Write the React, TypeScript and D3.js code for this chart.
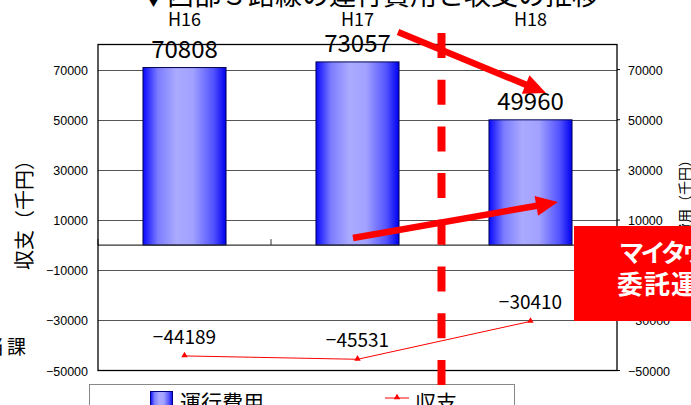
import React from 'react';
import * as d3 from 'd3';

// Fiscal years and series values (千円)
const categories = ['H16', 'H17', 'H18'];
const operatingCost = [70808, 73057, 49960];
const balance = [-44189, -45531, -30410];
const yTicks = [-50000, -30000, -10000, 10000, 30000, 50000, 70000];
const yDomain: [number, number] = [-50000, 80000];

const TITLE = '▼西部３路線の運行費用と収支の推移';
const LEFT_TITLE = '収支（千円）';
const RIGHT_TITLE = '運行費用（千円）';
const LEGEND_BAR = '運行費用';
const LEGEND_LINE = '収支';
const CALLOUT = ['マイタウンバス', '委託運行へ'];

// Hand-drawn red annotation arrows, in page pixels
const arrows = [
  { x1: 398, y1: 32, x2: 546, y2: 93 },
  { x1: 353, y1: 238, x2: 558, y2: 202 },
];

const W = 691;
const H = 405;
const plot = { left: 98, right: 617, top: 44.5, bottom: 370.5 };

const JP = '"Noto Sans CJK JP", "Noto Sans", sans-serif';
const SANS = '"Liberation Sans", Arial, sans-serif';

const fmt = (v: number) => (v < 0 ? '\u2212' + Math.abs(v) : String(v));

function arrowPath(a: { x1: number; y1: number; x2: number; y2: number }) {
  const dx = a.x2 - a.x1;
  const dy = a.y2 - a.y1;
  const len = Math.hypot(dx, dy);
  const ux = dx / len;
  const uy = dy / len;
  const headLen = 22;
  const headHalf = 10;
  const bx = a.x2 - ux * headLen;
  const by = a.y2 - uy * headLen;
  return {
    shaft: { x1: a.x1, y1: a.y1, x2: bx + ux * 2, y2: by + uy * 2 },
    head: [
      [a.x2, a.y2],
      [bx - uy * headHalf, by + ux * headHalf],
      [bx + uy * headHalf, by - ux * headHalf],
    ]
      .map((p) => p.join(','))
      .join(' '),
  };
}

export default function App() {
  const x = d3.scaleBand<string>().domain(categories).range([plot.left, plot.right]);
  const y = d3.scaleLinear().domain(yDomain).range([plot.bottom, plot.top]);
  const bw = x.bandwidth();
  const barW = bw * 0.48;
  const cx = (c: string) => (x(c) as number) + bw / 2;

  const linePath = d3
    .line<number>()
    .x((_, i) => cx(categories[i]))
    .y((d) => y(d))(balance) as string;
  const tri = d3.symbol(d3.symbolTriangle, 18)() as string;

  const boundaries = categories.map((c) => x(c) as number).concat([plot.right]);

  return (
    <svg
      width={W}
      height={H}
      viewBox={`0 0 ${W} ${H}`}
      style={{ position: 'absolute', left: 0, top: 0, background: '#fff' }}
    >
      <defs>
        <linearGradient id="barGrad" x1="0" x2="1" y1="0" y2="0">
          <stop offset="0" stopColor="#0808ff" />
          <stop offset="0.18" stopColor="#7c7cff" />
          <stop offset="0.4" stopColor="#aaaaff" />
          <stop offset="0.6" stopColor="#a2a2ff" />
          <stop offset="0.85" stopColor="#5252ff" />
          <stop offset="1" stopColor="#0000f0" />
        </linearGradient>
      </defs>

      <rect x={0} y={0} width={W} height={H} fill="#fff" />

      {/* title */}
      <text x={140} y={5} fontFamily={JP} fontSize={27} fill="#000">
        {TITLE}
      </text>

      {/* category labels above the plot */}
      {categories.map((c) => (
        <text key={c} x={cx(c)} y={26} textAnchor="middle" fontFamily={JP} fontSize={18}>
          {c}
        </text>
      ))}

      {/* grid */}
      {yTicks
        .filter((t) => t > yDomain[0])
        .map((t) => (
          <line
            key={t}
            x1={plot.left}
            x2={plot.right}
            y1={Math.round(y(t)) + 0.5}
            y2={Math.round(y(t)) + 0.5}
            stroke="#555"
            strokeWidth={1}
          />
        ))}

      {/* bars */}
      {categories.map((c, i) => {
        const v = operatingCost[i];
        return (
          <rect
            key={c}
            x={cx(c) - barW / 2}
            y={y(v)}
            width={barW}
            height={y(0) - y(v)}
            fill="url(#barGrad)"
            stroke="#000050"
            strokeWidth={1}
          />
        );
      })}

      {/* category axis at zero */}
      <line x1={plot.left} x2={plot.right} y1={y(0)} y2={y(0)} stroke="#333" strokeWidth={1.2} />
      {boundaries.map((b, i) => (
        <line key={i} x1={b} x2={b} y1={y(0)} y2={y(0) - 6} stroke="#333" strokeWidth={1} />
      ))}

      {/* plot frame */}
      <rect
        x={plot.left}
        y={plot.top}
        width={plot.right - plot.left}
        height={plot.bottom - plot.top}
        fill="none"
        stroke="#000"
        strokeWidth={1.3}
      />

      {/* left axis labels */}
      {yTicks.map((t) => (
        <text key={t} x={88} y={y(t) + 5} textAnchor="end" fontFamily={SANS} fontSize={12.5}>
          {fmt(t)}
        </text>
      ))}
      {/* right axis ticks and labels */}
      {yTicks.map((t) => (
        <g key={t}>
          <line x1={plot.right} x2={plot.right + 3} y1={y(t)} y2={y(t)} stroke="#000" />
          <text x={628} y={y(t) + 5} fontFamily={SANS} fontSize={12.5}>
            {fmt(t)}
          </text>
        </g>
      ))}

      {/* bar value labels */}
      {categories.map((c, i) => (
        <text
          key={c}
          x={cx(c)}
          y={y(operatingCost[i]) - 10}
          textAnchor="middle"
          fontFamily={JP}
          fontSize={24}
        >
          {fmt(operatingCost[i])}
        </text>
      ))}

      {/* balance line */}
      <path d={linePath} fill="none" stroke="#ff0000" strokeWidth={1} />
      {balance.map((v, i) => (
        <path
          key={i}
          d={tri}
          transform={`translate(${cx(categories[i])},${y(v) - 0.5})`}
          fill="#ff0000"
        />
      ))}
      {balance.map((v, i) => (
        <text
          key={i}
          x={cx(categories[i])}
          y={y(v) - 12}
          textAnchor="middle"
          fontFamily={JP}
          fontSize={19}
        >
          {fmt(v)}
        </text>
      ))}

      {/* axis titles */}
      <text
        transform={`translate(23,${y(0) - 35}) rotate(-90)`}
        textAnchor="middle"
        dominantBaseline="central"
        fontFamily={JP}
        fontSize={20}
      >
        {LEFT_TITLE}
      </text>
      <text
        transform={`translate(684,153) rotate(-90)`}
        textAnchor="end"
        dominantBaseline="central"
        fontFamily={JP}
        fontSize={14}
      >
        {RIGHT_TITLE}
      </text>
      <text x={4} y={354} textAnchor="end" fontFamily={JP} fontSize={19}>
        担当
      </text>
      <text x={26} y={354} textAnchor="end" fontFamily={JP} fontSize={19}>
        課
      </text>

      {/* legend */}
      <rect x={89.5} y={384.5} width={425} height={40} fill="#fff" stroke="#888" strokeWidth={1} />
      <rect x={150.5} y={391.5} width={22} height={22} fill="url(#barGrad)" stroke="#000080" />
      <text x={180} y={410} fontFamily={JP} fontSize={21}>
        {LEGEND_BAR}
      </text>
      <line x1={385} x2={409} y1={398} y2={398} stroke="#ff0000" strokeWidth={1} />
      <path d={tri} transform="translate(397,397.5)" fill="#ff0000" />
      <text x={415} y={410} fontFamily={JP} fontSize={21}>
        {LEGEND_LINE}
      </text>

      {/* red dashed divider */}
      <line
        x1={441.5}
        x2={441.5}
        y1={33}
        y2={H}
        stroke="#ff0000"
        strokeWidth={8}
        strokeDasharray="25 21.7"
      />

      {/* arrows */}
      {arrows.map((a, i) => {
        const p = arrowPath(a);
        return (
          <g key={i}>
            <line {...p.shaft} stroke="#ff0000" strokeWidth={6.5} />
            <polygon points={p.head} fill="#ff0000" />
          </g>
        );
      })}

      {/* callout box */}
      <rect x={574} y={226} width={W - 574} height={95} fill="#ff0000" />
      <text
        x={619}
        y={262}
        fontFamily={JP}
        fontWeight={700}
        fontSize={25}
        letterSpacing={-3.5}
        fill="#fff"
      >
        {CALLOUT[0]}
      </text>
      <text
        x={617}
        y={294}
        fontFamily={JP}
        fontWeight={700}
        fontSize={26}
        letterSpacing={1}
        fill="#fff"
      >
        {CALLOUT[1]}
      </text>
    </svg>
  );
}
